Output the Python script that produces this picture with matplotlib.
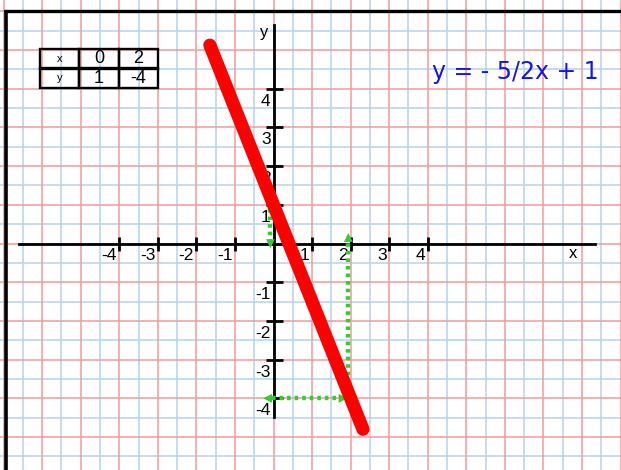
import numpy as np
import matplotlib.pyplot as plt

# line y = m*x + b
slope = -5 / 2
intercept = 1
line_x = [-1.65, 2.32]

# table of values
table_x = [0, 2]
table_y = [1, -4]

x_ticks = [-4, -3, -2, -1, 1, 2, 3, 4]
y_ticks = [4, 3, 2, 1, -1, -2, -3, -4]
x_tick_labels = ['-4', '-3', '-2', '-1', '1', '2', '3', '4']
y_tick_labels = ['4', '3', '2', '1', '-1', '-2', '-3', '-4']

equation = 'y = - 5/2x + 1'

W, H = 621, 470
ux, uy = 38.57, 38.7  # pixels per unit
x0px, y0px = 273.5, 243.5

fig = plt.figure(figsize=(W / 100, H / 100), dpi=100)
ax = fig.add_axes([0, 0, 1, 1])
ax.set_xlim(-x0px / ux, (W - x0px) / ux)
ax.set_ylim(-(H - y0px) / uy, y0px / uy)
ax.axis('off')

pink = '#f29a9a'
blue = '#b5d2f0'

# graph paper
for v in np.arange(-7.5, 9.5, 1.0):
    ax.axvline(v, color=blue, lw=1.1, zorder=0)
for v in np.arange(-7, 10, 1.0):
    ax.axvline(v, color=pink, lw=1.1, zorder=0.5)
for v in np.arange(-6.5, 7, 1.0):
    ax.axhline(v, color=blue, lw=1.1, zorder=0)
for v in np.arange(-6, 7, 1.0):
    ax.axhline(v, color=pink, lw=1.1, zorder=0.5)

# page border (top and left)
ax.plot([4 / W, 1], [1 - 10.5 / H] * 2, color='black', lw=2.4,
        transform=ax.transAxes, zorder=5, solid_capstyle='butt')
ax.plot([5.5 / W] * 2, [0, 1 - 10 / H], color='black', lw=2.6,
        transform=ax.transAxes, zorder=5, solid_capstyle='butt')

# axes
ax.plot([(19 - x0px) / ux, (595 - x0px) / ux], [0, 0], color='black', lw=2, zorder=2)
ax.plot([0, 0], [(y0px - 25) / uy, (y0px - 417) / uy], color='black', lw=2, zorder=2)

ax.vlines(x_ticks, -7 / uy, 7 / uy, color='black', lw=2, zorder=2)
ax.hlines(y_ticks, -8 / ux, 9 / ux, color='black', lw=2, zorder=2)

font = 'Liberation Sans'
for t, lab in zip(x_ticks, x_tick_labels):
    ax.text(t - 2.5 / ux, -4 / uy, lab, ha='right', va='top', fontsize=12.5,
            family=font, zorder=3)
for t, lab in zip(y_ticks, y_tick_labels):
    ax.text(-3 / ux, t - 5 / uy, lab, ha='right', va='top', fontsize=12.5,
            family=font, zorder=3)

ax.text((573 - x0px) / ux, (y0px - 253) / uy, 'x', ha='center', va='center',
        fontsize=12, family=font)
ax.text((264 - x0px) / ux, (y0px - 33) / uy, 'y', ha='center', va='center',
        fontsize=12, family=font)

# green dotted helper arrows
green = '#33cc33'
dots = dict(color=green, lw=3.2, linestyle=(0, (0.8, 0.9)), dash_capstyle='butt', zorder=3)
head = dict(arrowstyle='-|>', color=green, lw=0, mutation_scale=16,
            shrinkA=0, shrinkB=0)
ax0 = table_x[0] - 0.08
ax2 = table_x[1] - 0.06
ax.plot([ax0, ax0], [table_y[0] - 0.1, 0.1], **dots)
ax.annotate('', xy=(ax0, -0.12), xytext=(ax0, 0.2), arrowprops=head, zorder=3)
ax.plot([ax2, ax2], [table_y[1], 0.05], **dots)
ax.annotate('', xy=(ax2, 0.27), xytext=(ax2, -0.1), arrowprops=head, zorder=3)
ax.plot([-0.05, table_x[1] - 0.3], [table_y[1], table_y[1]], **dots)
ax.annotate('', xy=(-0.27, table_y[1]), xytext=(0.05, table_y[1]), arrowprops=head, zorder=3)
ax.annotate('', xy=(table_x[1] - 0.08, table_y[1]), xytext=(table_x[1] - 0.4, table_y[1]),
            arrowprops=head, zorder=3)
ax.scatter(table_x, table_y, s=40, color='#ffee33', edgecolor='#333333',
           lw=1, zorder=3.5)

# the line
lx = np.array(line_x)
ax.plot(lx, slope * lx + intercept, color='#ff0000', lw=9.5,
        solid_capstyle='round', zorder=4)

# equation
ax.text(515 / W, 1 - 72 / H, equation, transform=ax.transAxes, ha='center',
        va='center', fontsize=17, color='#1414e6', family='DejaVu Sans')

# value table
cells = [['x'] + [str(v) for v in table_x], ['y'] + [str(v) for v in table_y]]
tb = ax.table(cellText=cells, cellLoc='center',
              bbox=[40 / W, 1 - 88 / H, 118 / W, 39 / H], zorder=6)
tb.auto_set_font_size(False)
for (r, c), cell in tb.get_celld().items():
    cell.set_linewidth(1.7)
    cell.set_edgecolor('black')
    cell.set_facecolor('none')
    cell.get_text().set_fontfamily(font)
    cell.get_text().set_fontsize(8 if c == 0 else 13)

fig.savefig('out.png', dpi=100)
